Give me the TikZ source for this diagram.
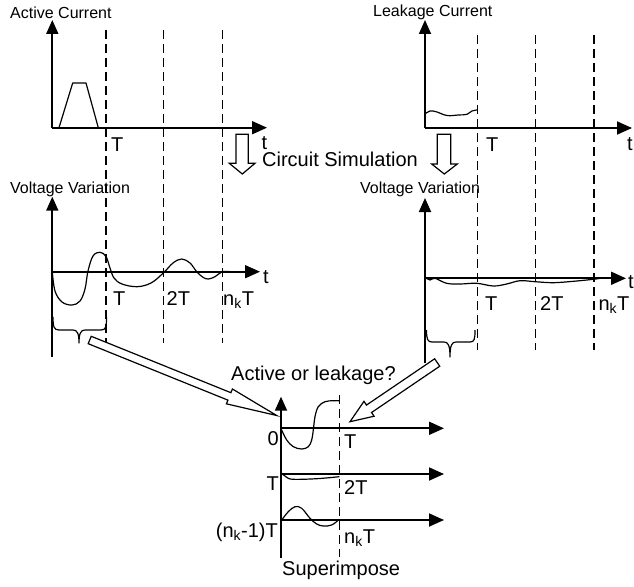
\documentclass[tikz,border=0pt]{standalone}
\usepackage{fontspec}
\setmainfont{Liberation Sans}
\usetikzlibrary{arrows.meta,calc}
\newcommand\blkarrow[5]{%
  \coordinate (hb) at ($(#2)!#5!(#1)$);
  \draw[blockarrow] ($(#1)!#3!90:(#2)$) -- ($(hb)!#3!90:(#2)$) -- ($(hb)!#4!90:(#2)$) -- (#2) -- ($(hb)!#4!-90:(#2)$) -- ($(hb)!#3!-90:(#2)$) -- ($(#1)!#3!-90:(#2)$) -- cycle;}
\tikzset{
  axis/.style={line width=1.8pt, -{Triangle[length=15pt,width=13pt]}},
  vaxis/.style={line width=1.8pt, -{Triangle[length=14pt,width=12pt]}},
  grid/.style={line width=1.7pt, dash pattern=on 9pt off 5pt},
  wave/.style={line width=1.2pt, line join=round},
  blockarrow/.style={line width=1.2pt, fill=white, line join=miter},
  small/.style={font=\fontsize{16}{18}\selectfont, inner sep=0pt},
  big/.style={font=\fontsize{20}{22}\selectfont, inner sep=0pt},
}
\begin{document}
\begin{tikzpicture}[x=1pt,y=-1pt]
\useasboundingbox (0,0) rectangle (634,586);

% ---------- top left: active current ----------
\coordinate (oA) at (52.3,127.7);
\draw[vaxis] (oA) -- (52.3,20);
\draw[axis] (oA) -- (267,127.7);
\foreach \x in {106,163.5,222.5} \draw[grid] (\x,30) -- (\x,343);
\draw[wave] (59,127.7) -- (72.7,83) -- (86,83) -- (98.3,127.7);
\node[small, anchor=base west] (lAC) at (10,18.5) {Active Current};
\node[big, anchor=base west] (tA1) at (111,151) {T};
\node[big, anchor=base west] (tA) at (261.5,149.5) {t};

% ---------- top right: leakage current ----------
\coordinate (oL) at (425,128);
\draw[vaxis] (oL) -- (425,20);
\draw[axis] (oL) -- (632,128);
\foreach \x in {477.5,535.5,594} \draw[grid] (\x,35) -- (\x,350);
\draw[wave] plot[smooth, tension=0.7] coordinates {(425,114) (430,111) (437,112) (447,115.5) (458,115) (467,114.3) (472,111) (477,110)};
\node[small, anchor=base west] (lLC) at (373,16.5) {Leakage Current};
\node[big, anchor=base west] (tL1) at (486,151) {T};
\node[big, anchor=base west] (tL) at (627,150) {t};

% ---------- circuit simulation arrows ----------
\draw[blockarrow] (236,134.3) -- (248.3,134.3) -- (248.3,163.3) -- (255,163.3) -- (242.3,174) -- (229.3,163.3) -- (236,163.3) -- cycle;
\draw[blockarrow] (437.3,134.3) -- (450.7,134.3) -- (450.7,164) -- (457.3,164) -- (444.3,174) -- (431.7,164) -- (437.3,164) -- cycle;
\node[big, anchor=base west] (cs) at (262,166) {Circuit Simulation};

% ---------- middle left: voltage variation (active) ----------
\coordinate (oVA) at (52.3,271.7);
\draw[line width=1.8pt] (oVA) -- (52.3,356.7);
\draw[vaxis] (oVA) -- (52.3,196.7);
\draw[axis] (oVA) -- (260,271.7);
\draw[wave] plot[smooth, tension=0.6] coordinates {(52.3,271.7) (55,291) (62,302) (72,305) (80,301) (85,289) (88,271) (93,256) (100,252.3) (106,256.5) (110,268) (114,278) (122,284) (137,286.7) (151,283) (163.3,273) (173,263) (181.7,259) (190,263) (196.7,271.7) (203,277.3) (208.3,279) (215,276.7) (222.3,271.7) (230,271.7)};
\node[small, anchor=base west] (lVA) at (10,193) {Voltage Variation};
\node[big, anchor=base west] (vA1) at (113,305) {T};
\node[big, anchor=base west] (vA2) at (166.5,305) {2T};
\node[big, anchor=base west] (vA3) at (223,305) {n\textsubscript{k}T};
\node[big, anchor=base west] (vAt) at (263,283) {t};
\draw[wave] (53,317) .. controls (53,327) and (54,330) .. (59,330) -- (73,330) .. controls (77,330) and (79,333) .. (79,343) .. controls (79,333) and (81,330) .. (85,330) -- (101,330) .. controls (106,330) and (106.5,327) .. (106.5,317);

% ---------- middle right: voltage variation (leakage) ----------
\coordinate (oVL) at (425,278.3);
\draw[line width=1.8pt] (oVL) -- (425,363);
\draw[vaxis] (oVL) -- (425,198);
\draw[axis] (oVL) -- (626,278.3);
\draw[wave] plot[smooth, tension=0.6] coordinates {(425,277.3) (430,280) (435,278.3) (446.7,283.3) (460,284) (476.7,283.3) (493.3,286) (506.7,284) (520,280.7) (535,281.7) (553.3,282.7) (573.3,281.3) (593.3,279.3) (600,278.3)};
\node[small, anchor=base west] (lVL) at (360,193) {Voltage Variation};
\node[big, anchor=base west] (vL1) at (485,310) {T};
\node[big, anchor=base west] (vL2) at (540,310) {2T};
\node[big, anchor=base west] (vL3) at (598.3,310) {n\textsubscript{k}T};
\node[big, anchor=base west] (vLt) at (628,288) {t};
\draw[wave] (426.5,330) .. controls (426.5,339) and (427.5,342) .. (432,342) -- (444,342) .. controls (448,342) and (450,345) .. (450,357) .. controls (450,345) and (452,342) .. (456,342) -- (470,342) .. controls (474.5,342) and (475,339) .. (475,330);

% ---------- bottom: superimpose ----------
\coordinate (oS1) at (281,428.3);
\coordinate (oS2) at (281,474);
\coordinate (oS3) at (281,520);
\draw[line width=1.8pt] (oS1) -- (281,558);
\draw[vaxis] (oS1) -- (281,396.7);
\draw[axis] (oS1) -- (444,428.3);
\draw[axis] (oS2) -- (444,474);
\draw[axis] (oS3) -- (444,520);
\draw[grid] (339.5,395) -- (339.5,557);
\draw[wave] plot[smooth, tension=0.6] coordinates {(281.7,430) (286.7,440) (293.3,446.7) (301.7,449) (308.3,446.7) (311.7,440) (313.3,430) (315,416.7) (318.3,406.7) (325,401.7) (333.3,400.7) (339.3,400.7)};
\draw[wave] plot[smooth, tension=0.6] coordinates {(281.7,473.3) (286.7,477.3) (293.3,479.3) (316.7,478.7) (339.3,476.7)};
\draw[wave] plot[smooth, tension=0.6] coordinates {(281.7,520) (288.3,511.7) (295,506.7) (301.7,508.3) (310,518.3) (316.7,524) (323.3,526) (331.7,525) (339.3,519.3)};
\node[big, anchor=base east] (s0) at (279,445) {0};
\node[big, anchor=base east] (s1) at (279,490) {T};
\node[big, anchor=base east] (s2) at (278,537) {(n\textsubscript{k}-1)T};
\node[big, anchor=base west] (r1) at (344,448.5) {T};
\node[big, anchor=base west] (r2) at (344,494) {2T};
\node[big, anchor=base west] (r3) at (344,543) {n\textsubscript{k}T};
\node[big, anchor=base west] (sup) at (282,575) {Superimpose};
\node[big, anchor=base west] (q) at (231,380) {Active or leakage?};

% ---------- block arrows to superimpose ----------
\coordinate (tailL) at (89.7,340);
\coordinate (tipL) at (276.7,415.5);
\blkarrow{tailL}{tipL}{4pt}{8pt}{51pt}
\coordinate (tailR) at (437.2,362.5);
\coordinate (tipR) at (350,421.7);
\blkarrow{tailR}{tipR}{4.5pt}{9pt}{23pt}
\end{tikzpicture}
\end{document}
